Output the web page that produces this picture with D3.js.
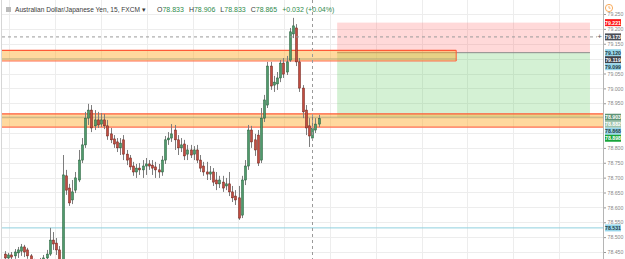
<!DOCTYPE html>
<html>
<head>
<meta charset="utf-8">
<script src="https://d3js.org/d3.v7.min.js"></script>
<style>
  body { margin: 0; background: #fff; }
  svg text { font-family: "Liberation Sans", Arial, sans-serif; }
</style>
</head>
<body>
<svg id="chart" width="625" height="259"></svg>
<script>
// AUD/JPY 15 min candles (oldest first)
var openP = [78.443,78.430,78.440,78.437,78.447,78.453,78.467,78.457,78.437,78.417,
  78.396,78.406,78.417,78.430,78.443,78.490,78.480,78.457,78.417,78.706,
  78.665,78.625,78.658,78.692,78.759,78.810,78.900,78.927,78.874,78.894,
  78.880,78.894,78.874,78.847,78.830,78.820,78.800,78.827,78.779,78.766,
  78.739,78.719,78.732,78.726,78.739,78.746,78.742,78.736,78.726,78.719,
  78.759,78.827,78.833,78.860,78.827,78.800,78.813,78.779,78.793,78.779,
  78.793,78.759,78.739,78.719,78.712,78.719,78.692,78.679,78.685,78.672,
  78.679,78.652,78.638,78.632,78.574,78.692,78.739,78.860,78.827,78.843,
  78.759,78.900,78.944,79.075,79.011,79.015,79.035,79.085,79.055,79.095,
  79.183,79.203,79.089,79.001,78.927,78.874,78.833,78.860,78.880];
var highP = [78.453,78.447,78.450,78.460,78.467,78.477,78.474,78.464,78.443,78.427,
  78.417,78.430,78.440,78.457,78.531,78.517,78.497,78.470,78.776,78.726,
  78.679,78.692,78.719,78.793,78.833,78.921,78.948,78.944,78.927,78.921,
  78.917,78.914,78.894,78.867,78.843,78.833,78.833,78.843,78.793,78.776,
  78.753,78.746,78.749,78.759,78.766,78.759,78.759,78.753,78.746,78.773,
  78.840,78.853,78.880,78.877,78.843,78.833,78.827,78.810,78.810,78.806,
  78.810,78.776,78.753,78.753,78.739,78.732,78.719,78.706,78.706,78.699,
  78.719,78.672,78.658,78.672,78.706,78.759,78.877,78.874,78.847,78.860,
  78.934,78.978,79.089,79.089,79.042,79.055,79.095,79.102,79.109,79.203,
  79.237,79.216,79.102,79.011,78.944,78.900,78.906,78.900,78.911];
var lowP = [78.417,78.420,78.423,78.427,78.430,78.437,78.433,78.427,78.403,78.383,
  78.383,78.390,78.403,78.413,78.437,78.457,78.440,78.403,78.406,78.642,
  78.605,78.611,78.648,78.685,78.749,78.800,78.877,78.853,78.860,78.867,
  78.870,78.863,78.827,78.816,78.800,78.786,78.776,78.759,78.742,78.726,
  78.706,78.699,78.709,78.699,78.709,78.726,78.709,78.699,78.699,78.706,
  78.746,78.810,78.820,78.793,78.776,78.786,78.759,78.759,78.766,78.759,
  78.749,78.719,78.706,78.692,78.692,78.672,78.658,78.665,78.652,78.658,
  78.638,78.618,78.608,78.558,78.564,78.675,78.726,78.800,78.773,78.739,
  78.749,78.887,78.934,78.995,78.988,78.995,79.021,79.035,79.045,79.089,
  79.169,79.075,78.988,78.900,78.843,78.803,78.833,78.850,78.870];
var closeP = [78.430,78.440,78.433,78.450,78.457,78.467,78.450,78.437,78.417,78.396,
  78.406,78.417,78.430,78.443,78.490,78.477,78.457,78.417,78.709,78.658,
  78.615,78.652,78.699,78.759,78.810,78.900,78.927,78.867,78.894,78.877,
  78.894,78.874,78.840,78.827,78.813,78.800,78.816,78.779,78.759,78.736,
  78.719,78.732,78.726,78.739,78.746,78.739,78.732,78.726,78.719,78.759,
  78.827,78.833,78.847,78.827,78.800,78.810,78.773,78.793,78.776,78.793,
  78.759,78.732,78.719,78.712,78.719,78.685,78.679,78.692,78.665,78.679,
  78.652,78.632,78.625,78.564,78.692,78.739,78.860,78.820,78.793,78.749,
  78.900,78.961,79.075,79.008,79.021,79.035,79.085,79.048,79.089,79.190,
  79.210,79.089,79.001,78.921,78.867,78.840,78.865,78.880,78.898];

var priceTicks = [79.25,79.2,79.15,79.1,79.05,79.0,78.95,78.9,78.85,78.8,78.75,78.7,78.65,78.6,78.55,78.5,78.45];

// support / resistance zones (price top, bottom, middle line, last bar index or null = to axis)
var zoneTop = [79.128, 78.914];
var zoneBottom = [79.092, 78.870];
var zoneMid = [79.099, 78.903];
var zoneEnd = [141, null];

// short position tool
var posStop = 79.221, posEntry = 79.120, posTarget = 78.903;
var posFrom = 103.8, posTo = 182.8;

// crosshair
var crossBar = 96, crossPrice = 79.173;
var horizLine = 78.531;

// price labels on the scale (top to bottom)
var labelText = ["79.221","79.173","79.120","79.119","79.099","78.903","78.882","78.868","78.898","78.531"];
var labelPrice = [79.221,79.173,79.120,79.119,79.099,78.903,78.882,78.868,78.898,78.531];
var labelBg = ["#ff1a1a","#4a4e57","#98d6ea","#3d424b","#98d6ea","#5e9475","#9fc4ad","#98d6ea","#17a53a","#98d6ea"];
var labelFg = ["#fff","#fff","#1f3b45","#fff","#1f3b45","#fff","#fff","#1f3b45","#fff","#1f3b45"];

var title = "Australian Dollar/Japanese Yen, 15, FXCM";
var ohlcKeys = ["O","H","L","C"];
var ohlcVals = ["78.833","78.906","78.833","78.865"];
var changeText = "+0.032 (+0.04%)";

var axisX = 603;
var svg = d3.select("#chart");

var y = d3.scaleLinear().domain([78.45, 79.25]).range([252, 14]);
var x = d3.scaleLinear().domain([0, 98]).range([5, 318.6]);

// grid
var grid = svg.append("g");
grid.selectAll("line.h").data(priceTicks).enter().append("line")
  .attr("x1", 2).attr("x2", axisX)
  .attr("y1", d => Math.round(y(d)) + 0.5).attr("y2", d => Math.round(y(d)) + 0.5)
  .attr("stroke", "#ededed");
grid.selectAll("line.v").data(d3.range(1.4, 185, 14.31)).enter().append("line")
  .attr("x1", d => Math.round(x(d)) + 0.5).attr("x2", d => Math.round(x(d)) + 0.5)
  .attr("y1", 0).attr("y2", 259)
  .attr("stroke", "#ededed");
svg.append("line").attr("x1", 1.5).attr("x2", 1.5).attr("y1", 0).attr("y2", 259).attr("stroke", "#d6d6d6");

// position tool boxes
svg.append("rect").attr("x", x(posFrom)).attr("width", x(posTo) - x(posFrom))
  .attr("y", y(posStop)).attr("height", y(posEntry) - y(posStop))
  .attr("fill", "rgba(255,80,80,0.22)");
svg.append("rect").attr("x", x(posFrom)).attr("width", x(posTo) - x(posFrom))
  .attr("y", y(posEntry)).attr("height", y(posTarget) - y(posEntry))
  .attr("fill", "rgba(60,190,60,0.22)");
svg.append("line").attr("x1", x(posFrom)).attr("x2", x(posTo))
  .attr("y1", y(posEntry)).attr("y2", y(posEntry)).attr("stroke", "#8a8a8a");

// zones
zoneTop.forEach(function(t, i) {
  var x2 = zoneEnd[i] === null ? axisX : x(zoneEnd[i]);
  svg.append("rect").attr("x", 2).attr("width", x2 - 2)
    .attr("y", y(t)).attr("height", y(zoneBottom[i]) - y(t))
    .attr("fill", "rgba(255,170,40,0.45)");
  svg.append("line").attr("x1", 2).attr("x2", x2).attr("y1", y(zoneMid[i])).attr("y2", y(zoneMid[i]))
    .attr("stroke", "#a9a37a").attr("stroke-width", 0.8);
  [t, zoneBottom[i]].forEach(function(p, k) {
    svg.append("line").attr("x1", 2).attr("x2", x2).attr("y1", y(p)).attr("y2", y(p))
      .attr("stroke", k === 0 ? "#ff5a36" : "#ff6f50").attr("stroke-width", 1.2);
  });
  if (zoneEnd[i] !== null) {
    svg.append("line").attr("x1", x2).attr("x2", x2).attr("y1", y(t)).attr("y2", y(zoneBottom[i]))
      .attr("stroke", "#ff5a36").attr("stroke-width", 1);
  }
});

// horizontal line
svg.append("line").attr("x1", 2).attr("x2", axisX).attr("y1", y(horizLine)).attr("y2", y(horizLine))
  .attr("stroke", "#8fd0df").attr("stroke-width", 1);

// candles
var bars = d3.range(openP.length);
var cg = svg.append("g");
cg.selectAll("line").data(bars).enter().append("line")
  .attr("x1", i => Math.round(x(i)) + 0.5).attr("x2", i => Math.round(x(i)) + 0.5)
  .attr("y1", i => y(highP[i])).attr("y2", i => y(lowP[i]))
  .attr("stroke", "#7d7d7d").attr("stroke-width", 1);
cg.selectAll("rect").data(bars).enter().append("rect")
  .attr("x", i => Math.round(x(i)) - 0.5)
  .attr("width", 2)
  .attr("y", i => y(Math.max(openP[i], closeP[i])))
  .attr("height", i => Math.max(1, Math.abs(y(openP[i]) - y(closeP[i]))))
  .attr("fill", i => closeP[i] >= openP[i] ? "#4f9a6c" : "#c24c40")
  .attr("stroke", i => closeP[i] >= openP[i] ? "#1f5a34" : "#6a1d15")
  .attr("stroke-width", 0.5);

// crosshair
svg.append("line").attr("x1", Math.round(x(crossBar)) + 0.5).attr("x2", Math.round(x(crossBar)) + 0.5)
  .attr("y1", 0).attr("y2", 259).attr("stroke", "#9a9a9a").attr("stroke-dasharray", "3,3");
svg.append("line").attr("x1", 2).attr("x2", 597).attr("y1", y(crossPrice)).attr("y2", y(crossPrice))
  .attr("stroke", "#9a9a9a").attr("stroke-dasharray", "3,3");
svg.append("text").attr("x", 599.5).attr("y", y(crossPrice) + 2.5).attr("text-anchor", "middle")
  .attr("font-size", 8).attr("fill", "#555").text("+");

// right scale
svg.append("rect").attr("x", axisX).attr("y", 0).attr("width", 625 - axisX).attr("height", 259).attr("fill", "#fff");
svg.append("line").attr("x1", axisX + 0.5).attr("x2", axisX + 0.5).attr("y1", 0).attr("y2", 259).attr("stroke", "#b5b5b5");

var labelY = [];
labelPrice.forEach(function(p, i) {
  var v = y(p);
  if (i > 0 && v < labelY[i - 1] + 7) v = labelY[i - 1] + 7;
  labelY.push(v);
});
var shownTicks = priceTicks.filter(t => labelY.every(ly => Math.abs(ly - y(t)) > 5.5));

var axis = d3.axisRight(y).tickValues(shownTicks).tickSize(2).tickPadding(1.5).tickFormat(d3.format(".3f"));
var ag = svg.append("g").attr("transform", "translate(" + (axisX + 1) + ",0)").call(axis);
ag.select(".domain").remove();
ag.selectAll(".tick line").attr("stroke", "#999");
ag.selectAll(".tick text").attr("fill", "#888").attr("font-size", 5.2)
  .attr("font-family", "Liberation Sans, Arial, sans-serif");

var lg = svg.append("g");
labelText.forEach(function(t, i) {
  lg.append("rect").attr("x", axisX + 2).attr("y", labelY[i] - 3.5).attr("width", 16).attr("height", 7)
    .attr("fill", labelBg[i]);
  lg.append("text").attr("x", axisX + 10).attr("y", labelY[i] + 1.9).attr("text-anchor", "middle")
    .attr("font-size", 5.2).attr("font-weight", "bold").attr("fill", labelFg[i]).text(t);
});

// alert clock icon
svg.append("circle").attr("cx", 609).attr("cy", 8).attr("r", 3.6).attr("fill", "none")
  .attr("stroke", "#f7a24a").attr("stroke-width", 0.9);
svg.append("path").attr("d", "M609,5.9 V8.2 H610.6").attr("fill", "none").attr("stroke", "#f7a24a").attr("stroke-width", 0.8);

// legend
svg.append("rect").attr("x", 6).attr("y", 7).attr("width", 5).attr("height", 5).attr("fill", "#b9b9b9");
var leg = svg.append("text").attr("x", 15).attr("y", 12.3).attr("font-size", 6.6).attr("fill", "#3a3a3a");
leg.append("tspan").text(title + " \u25BE");
var ohlc = svg.append("text").attr("x", 157).attr("y", 12.3).attr("font-size", 7);
ohlcKeys.forEach(function(k, i) {
  ohlc.append("tspan").attr("dx", i === 0 ? 0 : 5).attr("fill", "#3a3a3a").text(k);
  ohlc.append("tspan").attr("fill", "#2f8a4c").text(ohlcVals[i]);
});
ohlc.append("tspan").attr("dx", 5).attr("fill", "#2f8a4c").text(changeText);
</script>
</body>
</html>
